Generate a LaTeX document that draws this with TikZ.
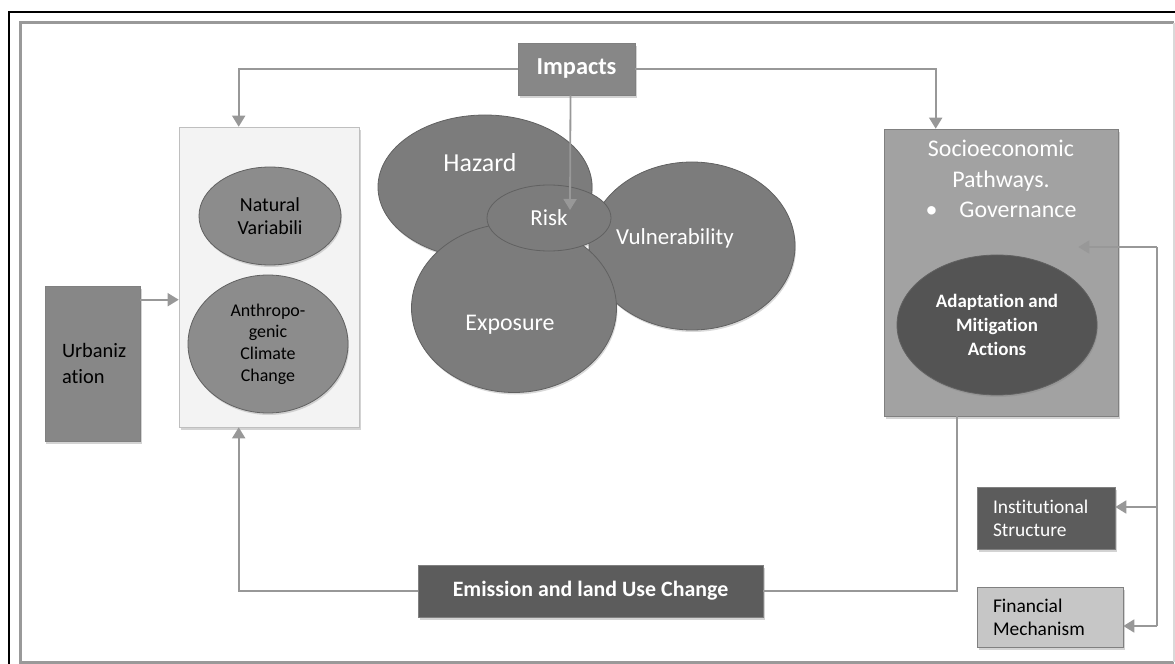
\documentclass[tikz,border=0pt]{standalone}
\usepackage{fontspec}
\setmainfont{Carlito}[Ligatures=NoCommon]
\usetikzlibrary{calc, positioning, shapes.geometric, arrows.meta, shadows}

\definecolor{linegray}{HTML}{989898}
\definecolor{blobgray}{HTML}{7C7C7C}
\definecolor{boxgray}{HTML}{878787}
\definecolor{darkbox}{HTML}{5C5C5C}
\definecolor{lightbox}{HTML}{C6C6C6}
\definecolor{sociogray}{HTML}{A2A2A2}
\definecolor{paleback}{HTML}{F3F3F3}

\begin{document}
\begin{tikzpicture}[x=1bp, y=-1bp,
	shade box/.style={draw=black!50, line width=0.6bp, inner sep=0pt,
		drop shadow={shadow xshift=1.5bp, shadow yshift=-3bp, opacity=0.35}},
	blob/.style={ellipse, draw=black!62, line width=0.8bp, fill=blobgray, inner sep=0pt,
		drop shadow={shadow xshift=1bp, shadow yshift=-2bp, opacity=0.3}},
	bigtxt/.style={text=white, font=\fontsize{23}{27}\selectfont},
	link/.style={draw=linegray, line width=1.8bp},
	arr/.style={link, -{Triangle[length=11bp, width=13bp]}}]

	\useasboundingbox (0,0) rectangle (1175,664);

	% frames %
	\draw[line width=2.2bp] (9,12) rectangle (1185,680);
	\draw[draw=black!40, line width=3bp] (1174,23) -- (20,23) -- (20,662) -- (1174,662);
	\draw[draw=black!15, line width=1.2bp] (1174,23) -- (1174,662);

	% left side %
	\node[shade box, fill=paleback, draw=black!25, minimum width=180bp, minimum height=300bp] (drivers) at (269,277) {};
	\node[blob, fill=black!45, minimum width=142bp, minimum height=98bp, align=center,
		font=\fontsize{20}{23}\selectfont] (natvar) at (270,216) {Natural\\Variabili};
	\node[blob, fill=black!45, minimum width=160bp, minimum height=138bp, align=center,
		font=\fontsize{18}{21.7}\selectfont] (anthro) at (268,344) {Anthropo-\\genic\\Climate\\Change};
	\node[shade box, fill=boxgray, minimum width=95bp, minimum height=155bp, text width=61bp,
		inner xsep=17bp, align=left, font=\fontsize{20.5}{27}\selectfont] (urban) at (92.5,363.5) {Urbaniz\\ation};

	% risk blobs %
	\node[blob, minimum width=206bp, minimum height=168bp] (vuln) at (692,246) {};
	\node[blob, minimum width=214bp, minimum height=144bp] (hazard) at (485,187) {};
	\node[blob, minimum width=205bp, minimum height=169bp] (expo) at (514,308) {};
	\node[blob, minimum width=124bp, minimum height=66bp] (risk) at (549,218) {};
	\node[bigtxt, font=\fontsize{26}{30}\selectfont] (hazardtxt) at ($(hazard)+(-5,-24)$) {Hazard};
	\node[bigtxt] (vulntxt) at ($(vuln)+(-17,-8)$) {Vulnerability};
	\node[bigtxt, font=\fontsize{24}{28}\selectfont] (expotxt) at ($(expo)+(-4,17)$) {Exposure};
	\node[bigtxt] (risktxt) at (risk) {Risk};

	% top and bottom %
	\node[shade box, fill=boxgray, minimum width=117bp, minimum height=52bp, text=white,
		font=\bfseries\fontsize{24.5}{28}\selectfont] (impacts) at (576.5,69) {Impacts};
	\node[shade box, fill=darkbox, minimum width=345bp, minimum height=52bp, text=white,
		font=\bfseries\fontsize{22}{26}\selectfont] (emission) at (590.5,591) {Emission and land Use Change};

	% right side %
	\node[shade box, fill=sociogray, minimum width=234bp, minimum height=287bp] (socio) at (1001,272.5) {};
	\node[text=white, align=center, anchor=north, font=\fontsize{24}{30.5}\selectfont]
		(sociotxt) at ($(socio.north)+(0,8)$) {Socioeconomic\\Pathways.\\\textbullet\hspace{22bp}Governance};
	\node[blob, fill=black!67, minimum width=200bp, minimum height=140bp, text=white, align=center,
		font=\bfseries\fontsize{19}{24.5}\selectfont] (adapt) at (997,325) {Adaptation and\\Mitigation\\Actions};
	\node[shade box, fill=darkbox, minimum width=138bp, minimum height=62bp, text width=106bp,
		inner xsep=16bp, align=left, text=white, font=\fontsize{19.5}{23}\selectfont] (inst) at (1046,518) {Institutional\\Structure};
	\node[shade box, fill=lightbox, minimum width=146bp, minimum height=60bp, text width=114bp,
		inner xsep=16bp, align=left, font=\fontsize{19.5}{23}\selectfont] (fin) at (1050,617) {Financial\\Mechanism};

	% edges %
	\draw[arr] (impacts.west) -| ($(drivers.north west)+(60,0)$);
	\draw[arr] (impacts.east) -| ($(socio.north west)+(52,0)$);
	\draw[arr] ($(impacts.south)+(-6,0)$) -- ($(risk.center)+(21,-8)$);
	\coordinate (urbanout) at ($(urban.north east)+(0,14)$);
	\draw[arr] (urbanout) -- (urbanout -| drivers.west);
	\draw[link] ($(socio.south west)+(73,0)$) |- (emission.east);
	\draw[arr] (emission.west) -| ($(drivers.south west)+(60,0)$);

	% feedback bus %
	\coordinate (busTop) at (1157,247);
	\coordinate (busMid) at (1157,507);
	\coordinate (busBot) at (1157,626);
	\draw[link] (busTop) -- (busBot);
	\draw[arr] (busTop) -- ($(busTop -| socio.east)+(-40,0)$);
	\draw[arr] (busMid) -- (busMid -| inst.east);
	\draw[arr] (busBot) -- (busBot -| fin.east);

\end{tikzpicture}
\end{document}
